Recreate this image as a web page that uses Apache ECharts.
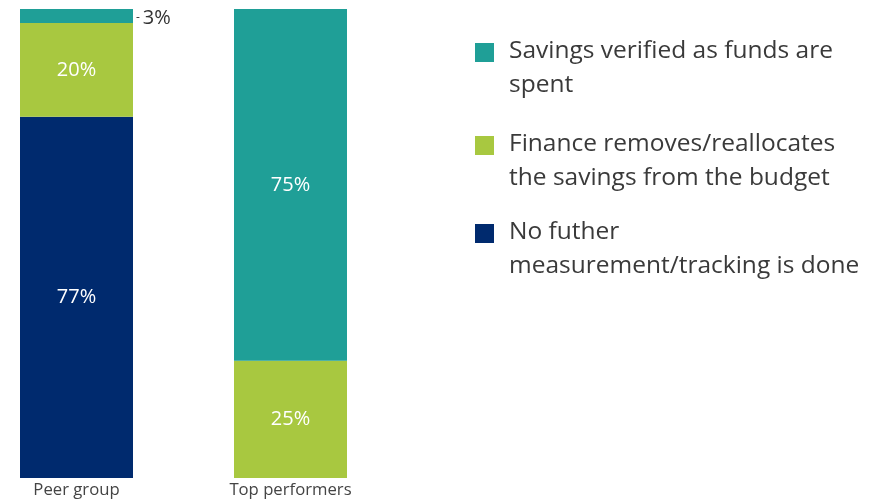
<!DOCTYPE html>
<html>
<head>
<meta charset="utf-8">
<script src="https://cdn.jsdelivr.net/npm/echarts@6/dist/echarts.min.js"></script>
<style>html,body{margin:0;padding:0;background:#fff}#c{width:885px;height:502px}</style>
</head>
<body>
<div id="c"></div>
<script>
var categories = ['Peer group', 'Top performers'];
var seriesNames = ['Savings verified as funds are\nspent', 'Finance removes/reallocates\nthe savings from the budget', 'No futher\nmeasurement/tracking is done'];
var verifiedValues = [3, 75];
var financeValues = [20, 25];
var noFurtherValues = [77, 0];
var colors = ['#1f9f97', '#a8c840', '#002a6e'];

var FONT = '"Open Sans", sans-serif';
var chart = echarts.init(document.getElementById('c'));

function innerLabel() {
  return {
    show: true, position: 'inside', color: '#fff', fontSize: 20, fontFamily: FONT,
    formatter: function (p) { return p.value > 0 ? p.value + '%' : ''; }
  };
}

var verifiedData = verifiedValues.map(function (v) {
  if (v < 5) {
    return { value: v, label: { show: true, position: 'right', distance: 3, color: '#333', fontSize: 20, fontFamily: FONT,
      offset: [0, 2],
      formatter: function (p) { return '{d|-}' + p.value + '%'; },
      rich: { d: { fontSize: 12, color: '#333', padding: [0, 3, 0, 0] } } } };
  }
  return { value: v };
});

var legendItems = [];
var legendTops = [43, 136, 224];
seriesNames.forEach(function (n, i) {
  legendItems.push({ type: 'rect', left: 475, top: legendTops[i], shape: { width: 19, height: 19 }, style: { fill: colors[i] } });
  legendItems.push({ type: 'text', left: 509, top: legendTops[i] - 8.5, style: { text: n, fill: '#3a3a3a', font: '24.5px ' + FONT, lineHeight: 34 } });
});

chart.setOption({
  animation: false,
  grid: { left: 76.5, right: 594.5, top: 9, bottom: 24, containLabel: false },
  xAxis: {
    type: 'category', data: categories, boundaryGap: false,
    axisLine: { show: false }, axisTick: { show: false },
    axisLabel: { color: '#444', fontSize: 16.7, fontFamily: FONT, margin: 4 }
  },
  yAxis: { type: 'value', min: 0, max: 100, show: false, splitLine: { show: false } },
  graphic: legendItems,
  series: [
    { name: seriesNames[2], type: 'bar', stack: 's', barWidth: 113, data: noFurtherValues, itemStyle: { color: colors[2] }, label: innerLabel() },
    { name: seriesNames[1], type: 'bar', stack: 's', barWidth: 113, data: financeValues, itemStyle: { color: colors[1] }, label: innerLabel() },
    { name: seriesNames[0], type: 'bar', stack: 's', barWidth: 113, data: verifiedData, itemStyle: { color: colors[0] }, label: innerLabel() }
  ]
});
</script>
</body>
</html>
